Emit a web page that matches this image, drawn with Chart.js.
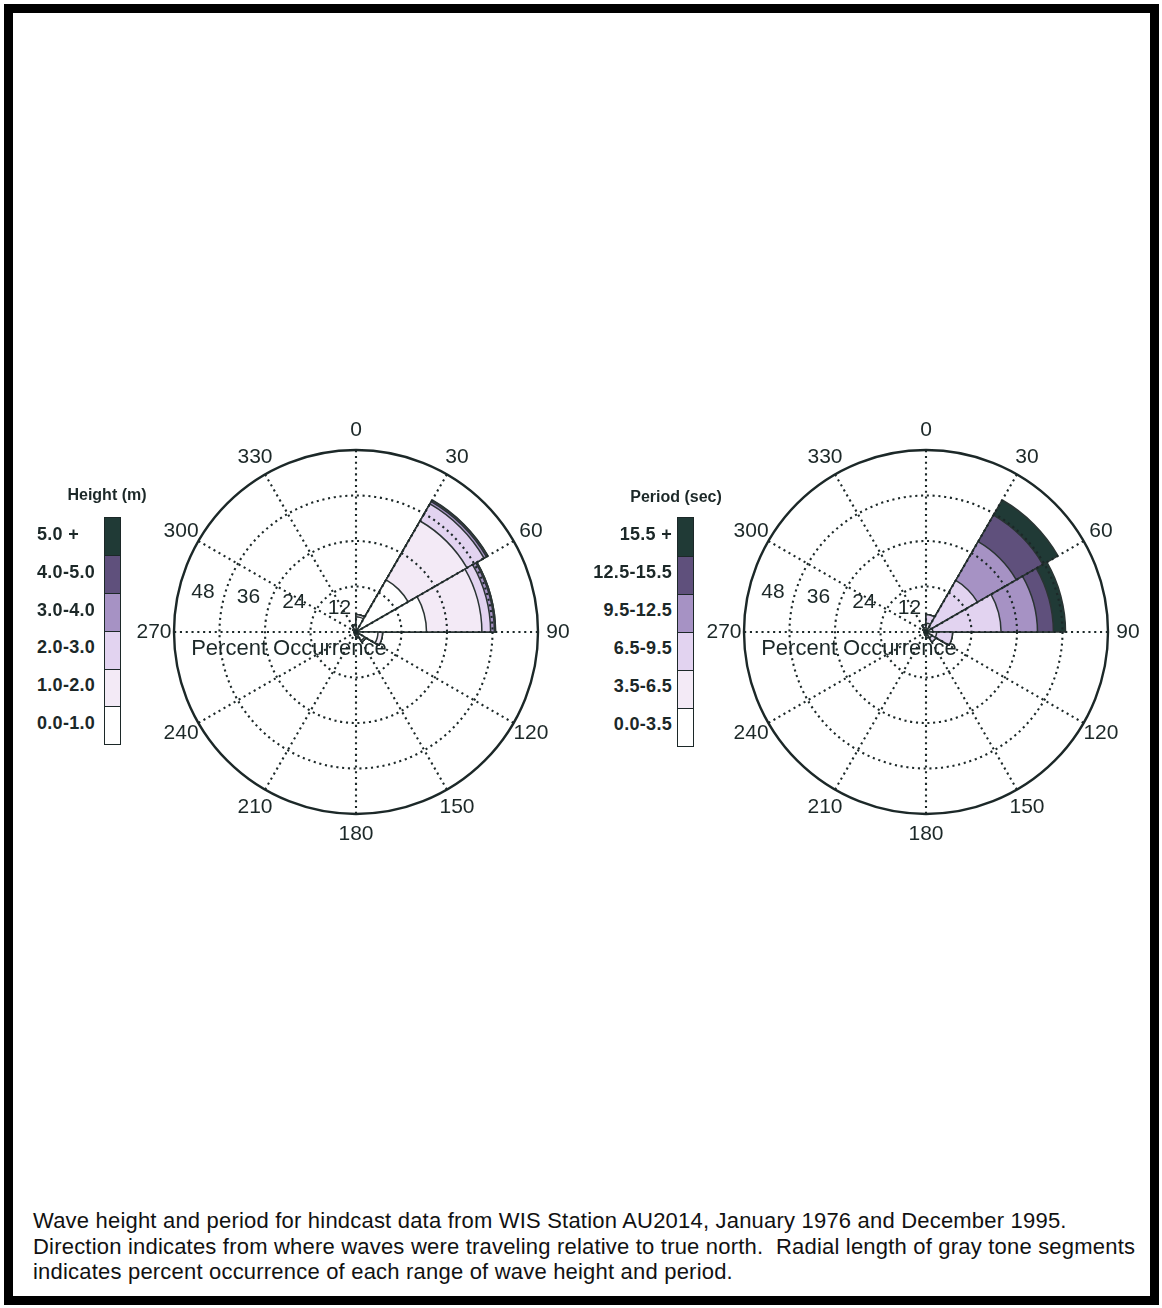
<!DOCTYPE html>
<html>
<head>
<meta charset="utf-8">
<title>Wave roses - WIS Station AU2014</title>
<script src="https://cdn.jsdelivr.net/npm/chart.js@4.4.1/dist/chart.umd.min.js"></script>
<style>
  html, body { margin: 0; padding: 0; background: #fff; }
  #page { position: relative; width: 1162px; height: 1308px; overflow: hidden; background: #fff;
          font-family: "Liberation Sans", Arial, sans-serif; }
  #frame { position: absolute; left: 4px; top: 4px; right: 3px; bottom: 3px; border: 9px solid #000; }
  canvas.rose { position: absolute; width: 460px; height: 460px; }
  .keyTitle { position: absolute; font-weight: bold; font-size: 16px; color: #1c2828;
              transform: translate(-50%, -50%); white-space: nowrap; }
  .keyBox { position: absolute; box-sizing: border-box; border: 1.5px solid #1c2828; }
  .keyLabel { position: absolute; font-weight: bold; font-size: 18px; letter-spacing: 0.3px;
              color: #1c2828; white-space: nowrap; transform: translateY(-50%); }
  #caption { position: absolute; left: 33px; top: 1208px; font-size: 22px; letter-spacing: 0.2px;
             line-height: 25.5px; color: #111; white-space: nowrap; }
</style>
</head>
<body>
<div id="page">
  <div id="frame"></div>
  <canvas id="roseHeight" class="rose" width="460" height="460" style="left:126px;top:402px"></canvas>
  <canvas id="rosePeriod" class="rose" width="460" height="460" style="left:696px;top:402px"></canvas>
  <div id="keyHeight"></div>
  <div id="keyPeriod"></div>
  <div id="caption">Wave height and period for hindcast data from WIS Station AU2014, January 1976 and December 1995.<br>Direction indicates from where waves were traveling relative to true north.&nbsp; Radial length of gray tone segments<br>indicates percent occurrence of each range of wave height and period.</div>
</div>
<script>
// Compass directions; sector i runs clockwise from directions[i] to directions[i+1]
const directions = ['0', '30', '60', '90', '120', '150', '180', '210', '240', '270', '300', '330'];

// Radial rings (percent occurrence)
const ringTicks = [12, 24, 36, 48];

// Class names for each rose
const heightClasses = ['0.0-1.0', '1.0-2.0', '2.0-3.0', '3.0-4.0', '4.0-5.0', '5.0 +'];
const periodClasses = ['0.0-3.5', '3.5-6.5', '6.5-9.5', '9.5-12.5', '12.5-15.5', '15.5 +'];

// Percent occurrence by direction sector, wave height classes (m)
const h0to1   = [4.0, 15.9, 18.6, 5.8, 2.6, 1.3, 0.7, 0.4, 0.4, 0.5, 0.8, 1.7];
const h1to2   = [0.6, 17.9, 14.6, 1.2, 0.4, 0.2, 0.1, 0.1, 0.1, 0.1, 0.2, 0.3];
const h2to3   = [0.0,  5.2,  2.3, 0.0, 0.0, 0.0, 0.0, 0.0, 0.0, 0.0, 0.0, 0.0];
const h3to4   = [0.0,  0.7,  1.0, 0.0, 0.0, 0.0, 0.0, 0.0, 0.0, 0.0, 0.0, 0.0];
const h4to5   = [0.0,  0.4,  0.3, 0.0, 0.0, 0.0, 0.0, 0.0, 0.0, 0.0, 0.0, 0.0];
const h5plus  = [0.0,  0.1,  0.0, 0.0, 0.0, 0.0, 0.0, 0.0, 0.0, 0.0, 0.0, 0.0];

// Percent occurrence by direction sector, wave period classes (sec)
const p0to35     = [0.3,  0.4,  0.4, 0.3, 0.3, 0.2, 0.1, 0.1, 0.1, 0.1, 0.1, 0.2];
const p35to65    = [2.0,  1.1,  1.4, 2.5, 1.5, 0.8, 0.4, 0.2, 0.2, 0.3, 0.5, 1.0];
const p65to95    = [2.3, 14.2, 18.0, 4.2, 1.2, 0.5, 0.3, 0.2, 0.2, 0.2, 0.4, 0.8];
const p95to125   = [0.0, 11.8,  9.6, 0.0, 0.0, 0.0, 0.0, 0.0, 0.0, 0.0, 0.0, 0.0];
const p125to155  = [0.0,  8.1,  4.2, 0.0, 0.0, 0.0, 0.0, 0.0, 0.0, 0.0, 0.0, 0.0];
const p155plus   = [0.0,  4.6,  3.2, 0.0, 0.0, 0.0, 0.0, 0.0, 0.0, 0.0, 0.0, 0.0];

// Tone for each class, lightest to darkest
const classColors = ['#ffffff', '#f3eaf6', '#e2d3f0', '#a692c4', '#5f507c', '#203a36'];

const INK = '#1c2828';
const FONT = '"Liberation Sans", Arial, sans-serif';

// Running totals so each class is drawn as a segment stacked outward
function stackClasses(series) {
  const out = [];
  let run = directions.map(() => 0);
  series.forEach(s => {
    run = run.map((v, i) => +(v + s[i]).toFixed(3));
    out.push(run.slice());
  });
  return out;
}

// Labels, outer rim and axis text drawn on top of the rose
const roseDecor = {
  id: 'roseDecor',
  afterDraw(chart) {
    const r = chart.scales.r;
    const ctx = chart.ctx;
    const cx = r.xCenter, cy = r.yCenter;
    ctx.save();
    // solid outer rim
    ctx.beginPath();
    ctx.arc(cx, cy, r.getDistanceFromCenterForValue(r.max), 0, Math.PI * 2);
    ctx.strokeStyle = INK;
    ctx.lineWidth = 2.4;
    ctx.stroke();

    ctx.fillStyle = INK;
    ctx.textAlign = 'center';
    ctx.textBaseline = 'middle';
    // compass labels outside the rim
    ctx.font = '21px ' + FONT;
    const labelDist = r.getDistanceFromCenterForValue(r.max) + 20;
    chart.data.labels.forEach((lab, i) => {
      const p = r.getPointPosition(i, labelDist);
      ctx.fillText(lab, p.x, p.y);
    });
    // ring values along the west side
    ringTicks.forEach(v => {
      const d = r.getDistanceFromCenterForValue(v);
      ctx.fillText(String(v), cx - d + 29, cy - 19 - 0.115 * d);
    });
    ctx.font = '22px ' + FONT;
    ctx.fillText('Percent Occurrence', cx - 67, cy + 17);
    ctx.restore();
  }
};

function makeRose(canvasId, series) {
  const stacks = stackClasses(series);
  // outermost total first, inner classes drawn over it
  const datasets = stacks.map((vals, k) => ({
    data: vals,
    backgroundColor: classColors[k],
    borderColor: '#2a3433',
    borderWidth: 1.5,
    borderAlign: 'center'
  }));
  return new Chart(document.getElementById(canvasId), {
    type: 'polarArea',
    data: { labels: directions, datasets },
    options: {
      responsive: false,
      animation: false,
      events: [],
      layout: { padding: 48 },
      plugins: { legend: { display: false }, tooltip: { enabled: false } },
      scales: {
        r: {
          type: 'radialLinear',
          min: 0,
          max: ringTicks[ringTicks.length - 1],
          startAngle: 0,
          ticks: { stepSize: 12, display: false },
          grid: {
            circular: true,
            z: 1,
            color: INK,
            lineWidth: c => (c.tick && c.tick.value >= 48) ? 0 : 2.1
          },
          border: { dash: [2.1, 3.7] },
          angleLines: { display: true, color: INK, lineWidth: 2.1, borderDash: [2.1, 3.7] },
          pointLabels: { display: false }
        }
      }
    },
    plugins: [roseDecor]
  });
}

makeRose('roseHeight', [h0to1, h1to2, h2to3, h3to4, h4to5, h5plus]);
makeRose('rosePeriod', [p0to35, p35to65, p65to95, p95to125, p125to155, p155plus]);

// Class keys: color column with class names
function makeKey(hostId, title, classes, g) {
  const host = document.getElementById(hostId);
  const t = document.createElement('div');
  t.className = 'keyTitle';
  t.textContent = title;
  t.style.left = g.titleX + 'px';
  t.style.top = g.titleY + 'px';
  host.appendChild(t);
  const n = classes.length;
  classes.forEach((name, k) => {
    const row = n - 1 - k; // darkest class at the top
    const box = document.createElement('div');
    box.className = 'keyBox';
    box.style.left = g.boxX + 'px';
    box.style.top = (g.boxTop + row * g.boxH) + 'px';
    box.style.width = g.boxW + 'px';
    box.style.height = (g.boxH + 1.5) + 'px';
    box.style.background = classColors[k];
    host.appendChild(box);
    const lab = document.createElement('div');
    lab.className = 'keyLabel';
    lab.textContent = name;
    const y = g.boxTop + (row + 0.5) * g.boxH - 2;
    lab.style.top = y + 'px';
    if (g.align === 'left') {
      lab.style.left = g.labelX + 'px';
    } else {
      lab.style.right = (1162 - g.labelX) + 'px';
    }
    host.appendChild(lab);
  });
}

makeKey('keyHeight', 'Height (m)', heightClasses,
  { titleX: 107, titleY: 495, boxX: 104, boxW: 17, boxTop: 517, boxH: 37.8, labelX: 37, align: 'left' });
makeKey('keyPeriod', 'Period (sec)', periodClasses,
  { titleX: 676, titleY: 497, boxX: 677, boxW: 17, boxTop: 517, boxH: 38, labelX: 672, align: 'right' });
</script>
</body>
</html>
